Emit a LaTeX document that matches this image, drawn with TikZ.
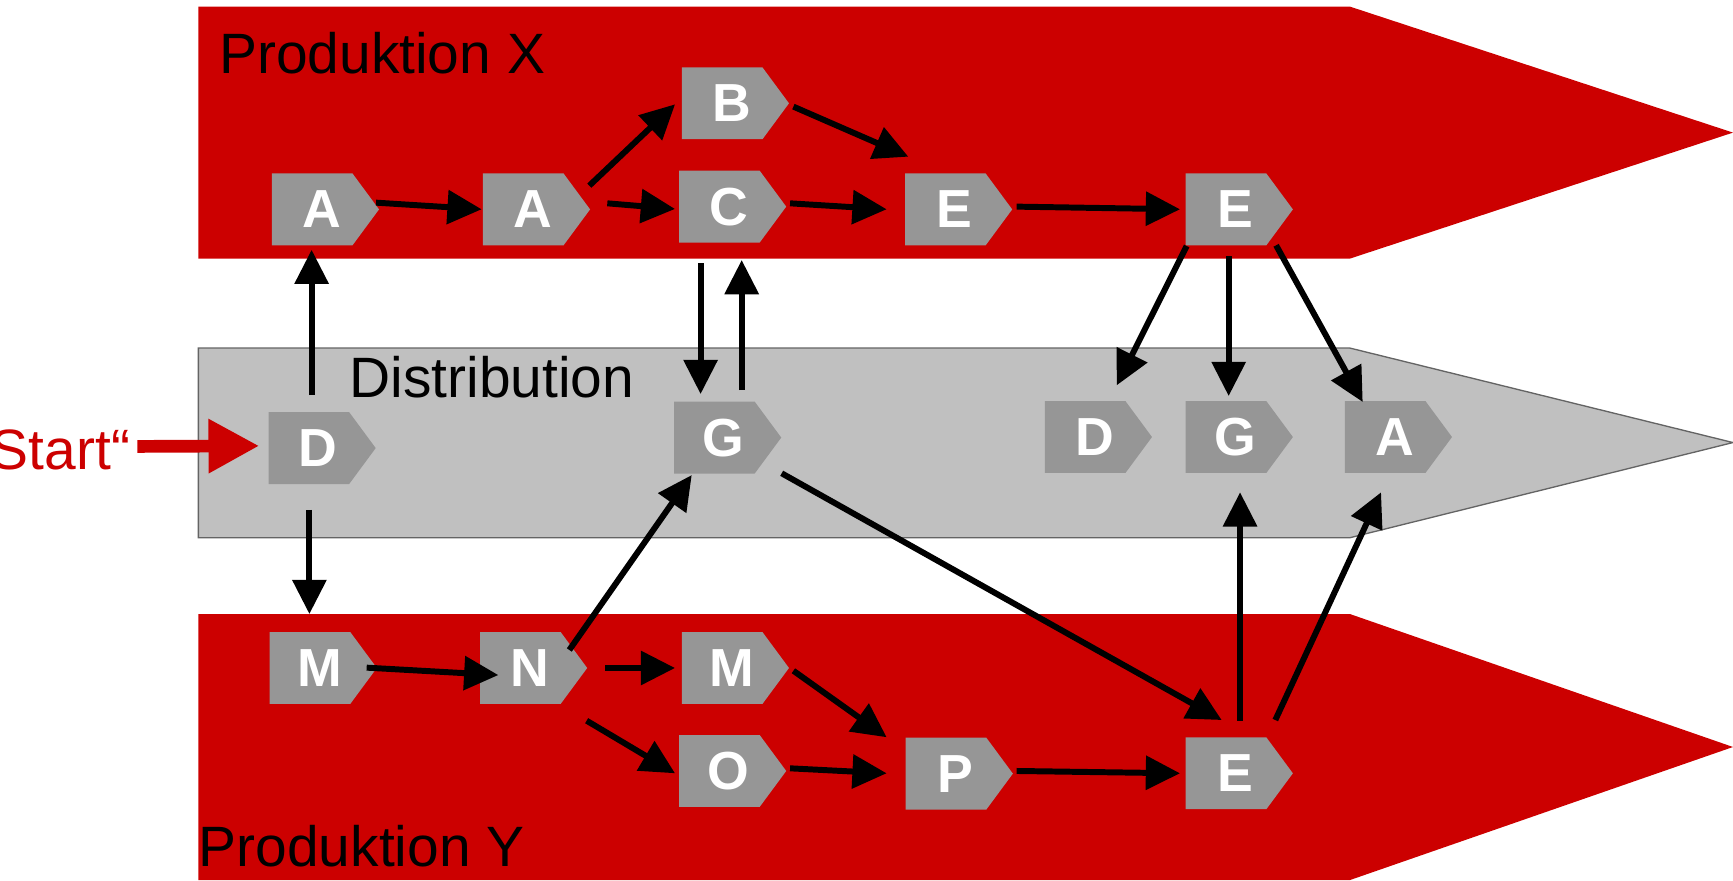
\documentclass[tikz,border=0pt]{standalone}
\usepackage{fontspec}
\setmainfont{Liberation Sans}
\usetikzlibrary{arrows.meta}
\definecolor{dbred}{RGB}{204,0,0}
\definecolor{bandgray}{RGB}{192,192,192}
\definecolor{boxgray}{RGB}{150,150,150}
\definecolor{edgegray}{RGB}{100,100,100}
\tikzset{
  proc/.style={inner sep=0pt, minimum width=45pt, minimum height=32.5pt, text=white,
    font=\bfseries\fontsize{24.25pt}{24.25pt}\selectfont},
  arr/.style={line width=2.7pt, -{Triangle[length=15.5pt,width=15pt]}},
  startarr/.style={dbred, line width=5.75pt, -{Triangle[length=23pt,width=23pt]}},
  title/.style={inner sep=0pt, anchor=base west, font=\fontsize{25.75pt}{25.75pt}\selectfont},
}
\newcommand\procbox[4]{%
  \fill[boxgray] (#2,#3) -- ++(73,0) -- ++(24,32.5) -- ++(-24,32.5) -- ++(-73,0) -- cycle;
  \node[proc] (#1) at ({#2+45},{#3+32.5}) {#4};}
\begin{document}
\begin{tikzpicture}[x=0.5pt,y=-0.5pt]
\useasboundingbox (0,0) rectangle (1568.3,796.4);
% bands
\fill[dbred] (179.5,6) -- (1221.7,6) -- (1568.3,120) -- (1221.7,234) -- (179.5,234) -- cycle;
\fill[dbred] (179.5,555.7) -- (1221.7,555.7) -- (1568.3,676) -- (1221.7,796.4) -- (179.5,796.4) -- cycle;
\filldraw[fill=bandgray, draw=edgegray, line width=0.6pt] (179.5,315) -- (1221.7,315) -- (1568.3,400.5) -- (1221.7,486.6) -- (179.5,486.6) -- cycle;
% titles
\node[title] (tX) at (198,66.4) {Produktion X};
\node[title] (tD) at (316,359.6) {Distribution};
\node[title] (tY) at (179.5,784.3) {Produktion Y};
\node[title, anchor=base east, text=dbred] (tS) at (118,424.7) {Start“};
% process boxes
\procbox{A1}{246}{157}{A}
\procbox{A2}{437}{157}{A}
\procbox{B}{617}{61}{B}
\procbox{C}{614.5}{154.5}{C}
\procbox{E1}{819}{157}{E}
\procbox{E2}{1073}{157}{E}
\procbox{D1}{243}{373}{D}
\procbox{G1}{610}{363.5}{G}
\procbox{D2}{945.5}{363}{D}
\procbox{G2}{1073}{363}{G}
\procbox{A3}{1217}{363}{A}
\procbox{M1}{244}{572}{M}
\procbox{N}{434.4}{572}{N}
\procbox{M2}{617}{572}{M}
\procbox{O}{614.5}{665.2}{O}
\procbox{P}{819.6}{667.6}{P}
\procbox{E3}{1073}{667.3}{E}
% start arrow
\coordinate (startpt) at (124.3,404);
\draw[startarr] (startpt) -- ([shift={(-53.3,-2)}]D1.center);
% connectors
\draw[arr] ([shift={(49.3,-6.1)}]A1.center) -- ([shift={(-46.1,-0.1)}]A2.center);
\draw[arr] ([shift={(51.3,-21.5)}]A2.center) -- ([shift={(-51.1,0.9)}]B.center);
\draw[arr] ([shift={(67.6,-5.5)}]A2.center) -- ([shift={(-48.6,2.1)}]C.center);
\draw[arr] ([shift={(56,3)}]B.center) -- ([shift={(-42,-47.7)}]E1.center);
\draw[arr] ([shift={(55.5,-3)}]C.center) -- ([shift={(-61.6,-0.1)}]E1.center);
\draw[arr] ([shift={(56,-2.5)}]E1.center) -- ([shift={(-50.1,-0.1)}]E2.center);
\draw[arr] ([shift={(-6,-48)}]D1.center) -- ([shift={(-9,36.5)}]A1.center);
\draw[arr] ([shift={(-8,56)}]D1.center) -- ([shift={(-9,-48.8)}]M1.center);
\draw[arr] ([shift={(-25.5,51.3)}]C.center) -- ([shift={(-21,-39.4)}]G1.center);
\draw[arr] ([shift={(16.2,-43)}]G1.center) -- ([shift={(11.7,48.3)}]C.center);
\draw[arr] ([shift={(-44.1,33.1)}]E2.center) -- ([shift={(20.1,-46.8)}]D2.center);
\draw[arr] ([shift={(-6.1,42.2)}]E2.center) -- ([shift={(-6.1,-37.1)}]G2.center);
\draw[arr] ([shift={(36.8,32.5)}]E2.center) -- ([shift={(-28.8,-31.7)}]A3.center);
\draw[arr] ([shift={(35.8,-16.3)}]N.center) -- ([shift={(-29,33.9)}]G1.center);
\draw[arr] ([shift={(52.4,32.3)}]G1.center) -- ([shift={(-12.4,-48.2)}]E3.center);
\draw[arr] ([shift={(42.8,-0.3)}]M1.center) -- ([shift={(-28.4,6.4)}]N.center);
\draw[arr] ([shift={(68.1,0)}]N.center) -- ([shift={(-51.1,0)}]M2.center);
\draw[arr] ([shift={(51.5,47.7)}]N.center) -- ([shift={(-48.6,2.1)}]O.center);
\draw[arr] ([shift={(56,2.5)}]M2.center) -- ([shift={(-62.2,-32.9)}]P.center);
\draw[arr] ([shift={(55.5,-2.4)}]O.center) -- ([shift={(-62.2,-0.3)}]P.center);
\draw[arr] ([shift={(55.4,-2.4)}]P.center) -- ([shift={(-50.1,0)}]E3.center);
\draw[arr] ([shift={(4.2,-47.6)}]E3.center) -- ([shift={(4.2,50)}]G2.center);
\draw[arr] ([shift={(36.1,-48.2)}]E3.center) -- ([shift={(-12.2,50)}]A3.center);
\end{tikzpicture}
\end{document}
